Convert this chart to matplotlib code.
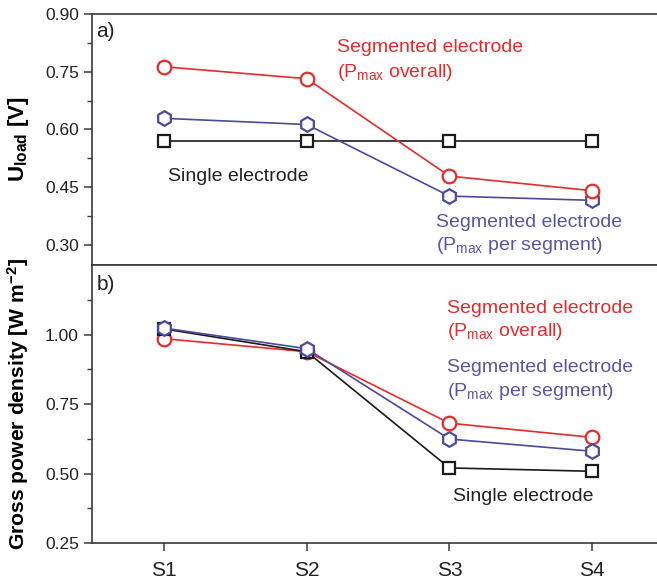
import matplotlib
matplotlib.use("Agg")
import matplotlib.pyplot as plt

plt.rcParams['font.family'] = ['Liberation Sans', 'DejaVu Sans']
plt.rcParams['mathtext.fontset'] = 'custom'
plt.rcParams['mathtext.rm'] = 'Liberation Sans'
plt.rcParams['mathtext.bf'] = 'Liberation Sans:bold'
plt.rcParams['mathtext.default'] = 'regular'

# Data
samples = ["S1", "S2", "S3", "S4"]
u_single = [0.571, 0.571, 0.571, 0.571]
u_seg_overall = [0.763, 0.732, 0.479, 0.441]
u_seg_per_segment = [0.629, 0.613, 0.427, 0.416]

p_single = [1.020, 0.938, 0.520, 0.508]
p_seg_overall = [0.985, 0.938, 0.681, 0.630]
p_seg_per_segment = [1.023, 0.949, 0.624, 0.580]

RED = '#e52b2b'
BLUE = '#4a4a9e'
BLUE_TXT = '#5757a3'
BLACK = '#1a1a1a'
SPINE = '#3a3a3a'
ANN = 14

fig = plt.figure(figsize=(6.57, 5.85), dpi=100)
W, H = 657.0, 585.0
left = 92 / W
width = 565 / W
ax_a = fig.add_axes([left, 1 - 265 / H, width, (265 - 14) / H])
ax_b = fig.add_axes([left, 1 - 543 / H, width, (543 - 265) / H])

x = [1, 2, 3, 4]
line_kw = dict(lw=1.2, mew=1.6, mfc='white')


def style_axes(ax):
    for side in ['left', 'bottom', 'top']:
        ax.spines[side].set_color(SPINE)
        ax.spines[side].set_linewidth(1.2)
    ax.spines['right'].set_visible(False)
    ax.tick_params(axis='both', which='major', direction='out', length=6,
                   width=1.1, color=SPINE, labelsize=12.5, labelcolor='#222222')
    ax.tick_params(axis='y', which='minor', direction='out', length=3.5,
                   width=1.0, color=SPINE)
    ax.tick_params(axis='x', which='both', top=False)
    ax.set_xlim(0.495, 4.455)
    ax.set_xticks(x)


# Panel a: load voltage
style_axes(ax_a)
ax_a.plot(x, u_single, color=BLACK, marker='s', ms=8.2, zorder=3, **line_kw)
ax_a.plot(x, u_seg_per_segment, color=BLUE, marker='h', ms=10.5, zorder=4, **line_kw)
ax_a.plot(x, u_seg_overall, color=RED, marker='o', ms=9.8, zorder=5, **line_kw)
ax_a.set_ylim(0.248, 0.90)
ax_a.set_yticks([0.30, 0.45, 0.60, 0.75, 0.90])
ax_a.set_yticks([0.375, 0.525, 0.675, 0.825], minor=True)
ax_a.set_yticklabels(['0.30', '0.45', '0.60', '0.75', '0.90'])
ax_a.tick_params(axis='x', labelbottom=False)
ax_a.set_ylabel(r'U$_{\mathbf{load}}$ [V]', fontsize=16, fontweight='bold')
ax_a.yaxis.set_label_coords(-0.108, 0.5)
ax_a.text(0.008, 0.93, 'a)', transform=ax_a.transAxes, fontsize=15,
          ha='left', va='center', color='#222222')
ax_a.text(2.212, 0.812, 'Segmented electrode', color=RED, fontsize=ANN,
          ha='left', va='center')
ax_a.text(2.212, 0.749, r'(P$_{max}$ overall)', color=RED, fontsize=ANN,
          ha='left', va='center')
ax_a.text(1.028, 0.479, 'Single electrode', color='#222222', fontsize=ANN,
          ha='left', va='center')
ax_a.text(2.906, 0.359, 'Segmented electrode', color=BLUE_TXT, fontsize=ANN,
          ha='left', va='center')
ax_a.text(2.906, 0.298, r'(P$_{max}$ per segment)', color=BLUE_TXT, fontsize=ANN,
          ha='left', va='center')

# Panel b: gross power density
style_axes(ax_b)
ax_b.plot(x, p_seg_overall, color=RED, marker='o', ms=9.8, zorder=3, **line_kw)
ax_b.plot(x, p_single, color=BLACK, marker='s', ms=8.2, zorder=4, **line_kw)
ax_b.plot(x, p_seg_per_segment, color=BLUE, marker='h', ms=10.5, zorder=5, **line_kw)
ax_b.set_ylim(0.25, 1.25)
ax_b.set_yticks([0.25, 0.50, 0.75, 1.00])
ax_b.set_yticks([0.375, 0.625, 0.875, 1.125], minor=True)
ax_b.set_yticklabels(['0.25', '0.50', '0.75', '1.00'])
ax_b.set_xticklabels(samples, fontsize=15)
ax_b.tick_params(axis='x', pad=7)
ax_b.set_ylabel(r'Gross power density [W m$^{\mathbf{-2}}$]', fontsize=15.2,
                fontweight='bold')
ax_b.yaxis.set_label_coords(-0.108, 0.5)
ax_b.text(0.008, 0.93, 'b)', transform=ax_b.transAxes, fontsize=15,
          ha='left', va='center', color='#222222')
ax_b.text(2.983, 1.093, 'Segmented electrode', color=RED, fontsize=ANN,
          ha='left', va='center')
ax_b.text(2.983, 1.011, r'(P$_{max}$ overall)', color=RED, fontsize=ANN,
          ha='left', va='center')
ax_b.text(2.983, 0.882, 'Segmented electrode', color=BLUE_TXT, fontsize=ANN,
          ha='left', va='center')
ax_b.text(2.983, 0.796, r'(P$_{max}$ per segment)', color=BLUE_TXT, fontsize=ANN,
          ha='left', va='center')
ax_b.text(3.025, 0.418, 'Single electrode', color='#222222', fontsize=ANN,
          ha='left', va='center')

fig.savefig('out.png', dpi=100)
